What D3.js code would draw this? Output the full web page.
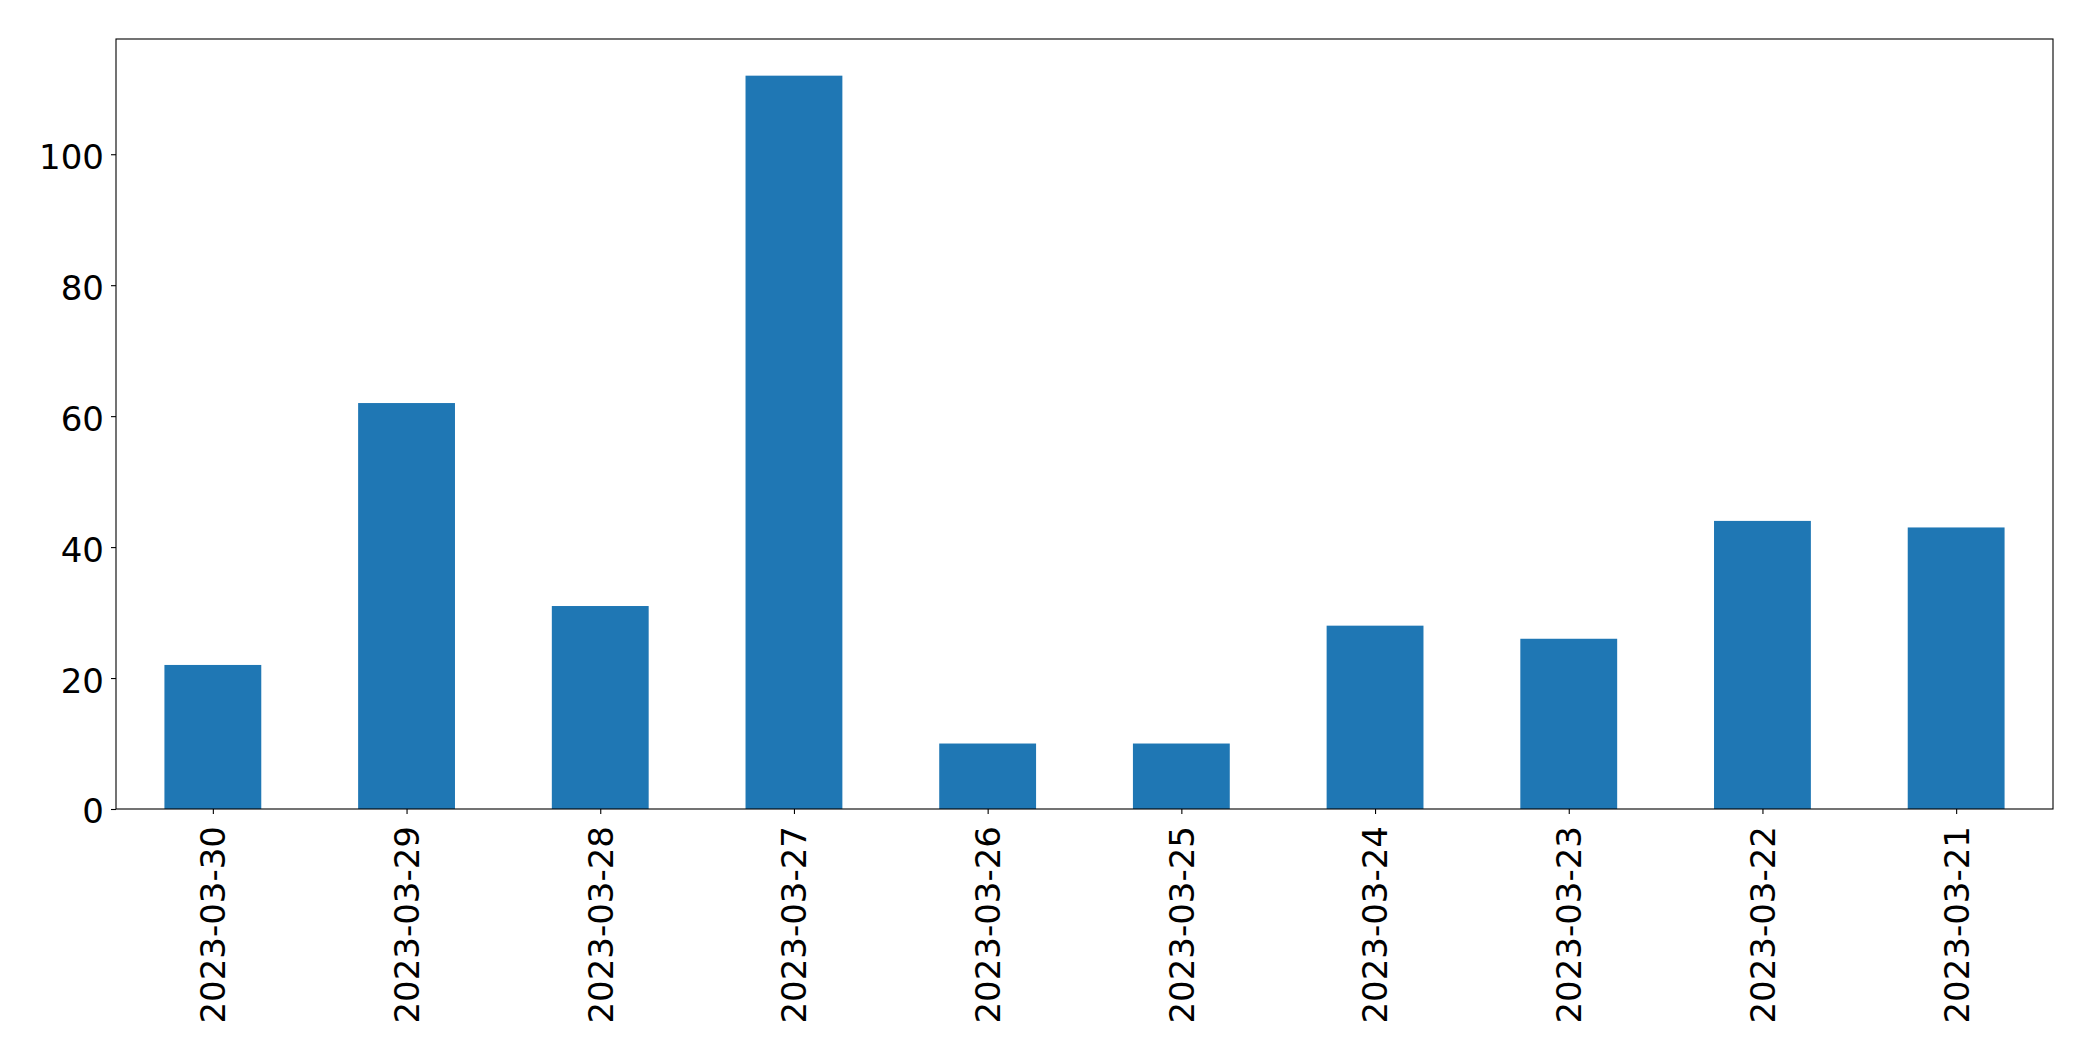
<!DOCTYPE html>
<html>
<head>
<meta charset="utf-8">
<script src="https://cdn.jsdelivr.net/npm/d3@7"></script>
<style>
  html, body { margin: 0; padding: 0; background: #fff; }
  svg text { font-family: "DejaVu Sans", sans-serif; fill: #000; }
</style>
</head>
<body>
<svg id="chart" width="2093" height="1061"></svg>
<script>
// data
const dates = ["2023-03-30","2023-03-29","2023-03-28","2023-03-27","2023-03-26",
               "2023-03-25","2023-03-24","2023-03-23","2023-03-22","2023-03-21"];
const counts = [22, 62, 31, 112, 10, 10, 28, 26, 44, 43];
const yTicks = [0, 20, 40, 60, 80, 100];

const plotLeft = 116, plotRight = 2053, plotTop = 39, plotBottom = 809;
const fontPx = 34;
let svg = d3.select("#chart");

// bars at integer positions, width 0.5, xlim -0.5..n-0.5 like pandas
let x = d3.scaleLinear().domain([-0.5, dates.length - 0.5]).range([plotLeft, plotRight]);
let y = d3.scaleLinear().domain([0, d3.max(counts) * 1.05]).range([plotBottom, plotTop]);

svg.selectAll(".bar")
  .data(counts)
  .enter()
  .append("rect")
  .attr("class", "bar")
  .attr("x", (d, i) => x(i - 0.25))
  .attr("width", (d, i) => x(i + 0.25) - x(i - 0.25))
  .attr("y", d => y(d))
  .attr("height", d => y(0) - y(d))
  .attr("fill", "#1f77b4");

// y axis
let yAxis = svg.append("g")
  .attr("transform", `translate(${plotLeft},0)`)
  .call(d3.axisLeft(y).tickValues(yTicks).tickSize(5).tickPadding(7).tickFormat(d3.format("d")));
yAxis.select(".domain").remove();
yAxis.selectAll("line").attr("stroke", "#000").attr("stroke-width", 1.1);
yAxis.selectAll("text")
  .attr("font-size", fontPx)
  .attr("font-family", "DejaVu Sans")
  .attr("dy", "0.41em");

// x axis, labels turned 90 degrees
let xAxis = svg.append("g")
  .attr("transform", `translate(0,${plotBottom})`)
  .call(d3.axisBottom(x).tickValues(d3.range(dates.length)).tickSize(5).tickFormat(i => dates[i]));
xAxis.select(".domain").remove();
xAxis.selectAll("line").attr("stroke", "#000").attr("stroke-width", 1.1);
xAxis.selectAll("text")
  .attr("font-size", fontPx)
  .attr("font-family", "DejaVu Sans")
  .attr("text-anchor", "end")
  .attr("transform", "rotate(-90)")
  .attr("x", -17)
  .attr("y", 0)
  .attr("dy", "0.35em");

// frame
svg.append("rect")
  .attr("x", plotLeft).attr("y", plotTop)
  .attr("width", plotRight - plotLeft).attr("height", plotBottom - plotTop)
  .attr("fill", "none")
  .attr("stroke", "#000")
  .attr("stroke-width", 1.1);
</script>
</body>
</html>
